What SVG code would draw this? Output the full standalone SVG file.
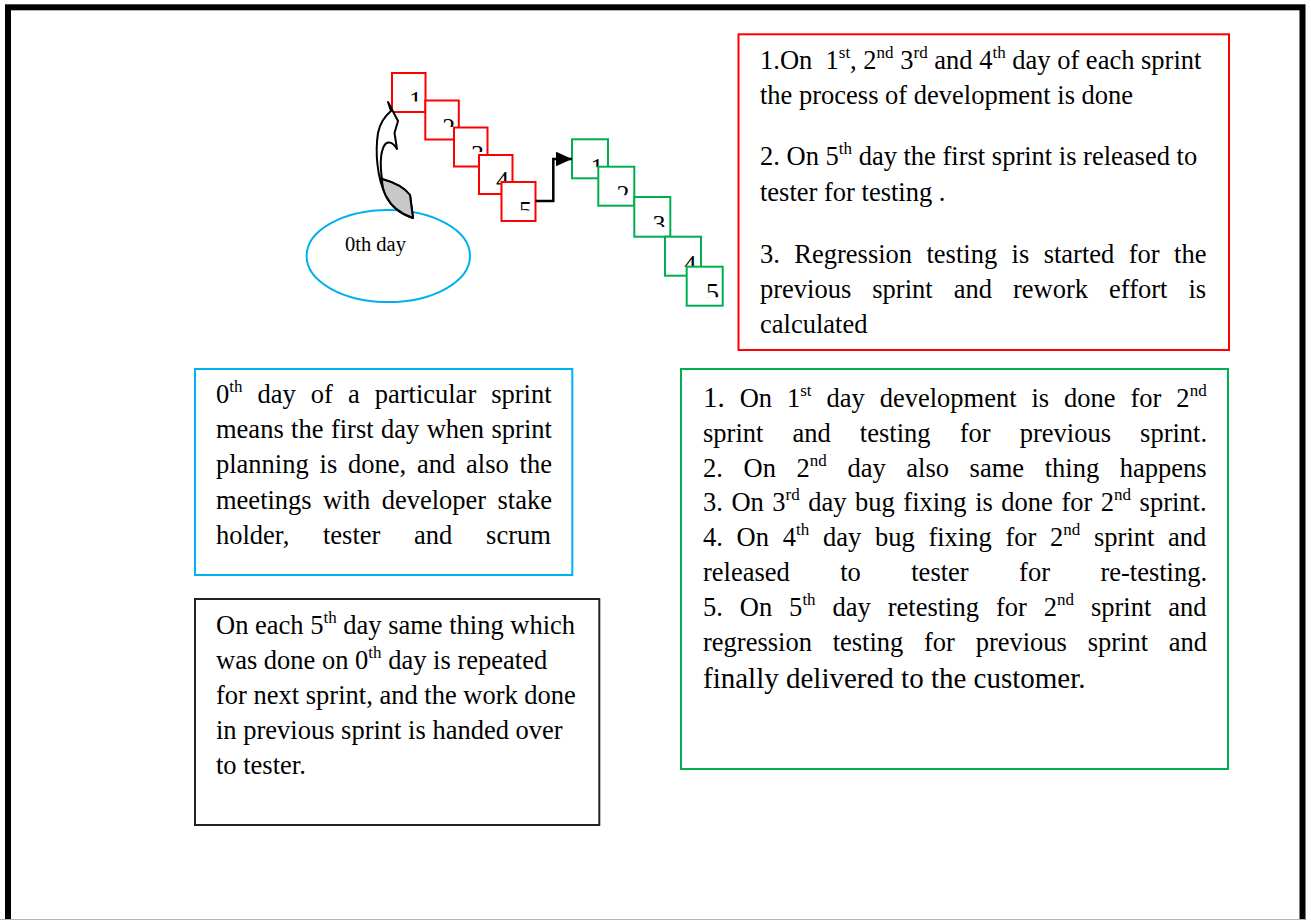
<svg xmlns="http://www.w3.org/2000/svg" width="1311" height="920" viewBox="0 0 1311 920">
  <style>
    .t { font-family: "Liberation Serif", "Times New Roman", serif; font-size: 26.5px; fill: #000; }
    .sup { font-size: 17px; }
    .big { font-size: 29px; }
    .d { font-family: "Liberation Serif", "Times New Roman", serif; font-size: 26px; fill: #000; text-anchor: middle; }
    .lbl { font-family: "Liberation Serif", "Times New Roman", serif; font-size: 20.5px; fill: #000; }
    .red { fill: #fff; stroke: #ff0000; stroke-width: 2; }
    .grn { fill: #fff; stroke: #00b050; stroke-width: 2; }
    .box { fill: #fff; stroke-width: 2; }
    .line { fill: none; stroke: #000; stroke-width: 2.5; }
  </style>
  <defs>
    <marker id="head" markerUnits="userSpaceOnUse" markerWidth="17" markerHeight="15" refX="16" refY="7.3" orient="auto">
      <path d="M0,0 L16,7.3 L0,14.6 Z" fill="#000"/>
    </marker>
    <!-- digit windows: the lower part of each day number is hidden -->
    <clipPath id="cr1" clipPathUnits="userSpaceOnUse"><rect x="392" y="73" width="33.5" height="28.5"/></clipPath>
    <clipPath id="cr2" clipPathUnits="userSpaceOnUse"><rect x="425.3" y="100.5" width="33.5" height="26.5"/></clipPath>
    <clipPath id="cr3" clipPathUnits="userSpaceOnUse"><rect x="454" y="127.5" width="33.5" height="24.5"/></clipPath>
    <clipPath id="cr4" clipPathUnits="userSpaceOnUse"><rect x="479" y="155" width="33.5" height="29.5"/></clipPath>
    <clipPath id="cr5" clipPathUnits="userSpaceOnUse"><rect x="501.5" y="182" width="34" height="28.5"/></clipPath>
    <clipPath id="cg1" clipPathUnits="userSpaceOnUse"><rect x="572" y="139.3" width="36" height="28"/></clipPath>
    <clipPath id="cg2" clipPathUnits="userSpaceOnUse"><rect x="598.3" y="166.7" width="36" height="28.5"/></clipPath>
    <clipPath id="cg3" clipPathUnits="userSpaceOnUse"><rect x="634.3" y="197" width="36" height="30"/></clipPath>
    <clipPath id="cg4" clipPathUnits="userSpaceOnUse"><rect x="665" y="236.7" width="36" height="30"/></clipPath>
    <clipPath id="cg5" clipPathUnits="userSpaceOnUse"><rect x="686.7" y="266.7" width="36" height="30.5"/></clipPath>
  </defs>

  <rect width="1311" height="920" fill="#fff"/>

  <!-- page frame -->
  <g id="frame">
    <rect x="8" y="7.3" width="1294.5" height="960" fill="none" stroke="#000" stroke-width="6"/>
    <line x1="0" y1="919.5" x2="1305" y2="919.5" stroke="#b4b4b4" stroke-width="1"/>
  </g>

  <!-- day 0 -->
  <g id="day0">
    <ellipse cx="388.3" cy="256" rx="81.7" ry="46" fill="#fff" stroke="#00b0f0" stroke-width="2"/>
    <text class="lbl" x="345" y="251">0th day</text>
  </g>

  <!-- first sprint: days 1-5 -->
  <g id="sprint1">
    <g id="s1d1"><rect class="red" x="392" y="73" width="33.5" height="39"/><text class="d" x="415.5" y="109" clip-path="url(#cr1)">1</text></g>
    <g id="s1d2"><rect class="red" x="425.3" y="100.5" width="33.5" height="39"/><text class="d" x="448.8" y="136" clip-path="url(#cr2)">2</text></g>
    <g id="s1d3"><rect class="red" x="454" y="127.5" width="33.5" height="39"/><text class="d" x="477.5" y="162.6" clip-path="url(#cr3)">3</text></g>
    <g id="s1d4"><rect class="red" x="479" y="155" width="33.5" height="39"/><text class="d" x="502.5" y="189.3" clip-path="url(#cr4)">4</text></g>
    <g id="s1d5"><rect class="red" x="501.5" y="182" width="34" height="39"/><text class="d" x="525.5" y="219.3" clip-path="url(#cr5)">5</text></g>
  </g>

  <!-- second sprint: days 1-5 -->
  <g id="sprint2">
    <g id="s2d1"><rect class="grn" x="572" y="139.3" width="36" height="39"/><text class="d" x="597" y="175.6" clip-path="url(#cg1)">1</text></g>
    <g id="s2d2"><rect class="grn" x="598.3" y="166.7" width="36" height="39"/><text class="d" x="623" y="202.6" clip-path="url(#cg2)">2</text></g>
    <g id="s2d3"><rect class="grn" x="634.3" y="197" width="36" height="39.7"/><text class="d" x="659" y="232.6" clip-path="url(#cg3)">3</text></g>
    <g id="s2d4"><rect class="grn" x="665" y="236.7" width="36" height="39"/><text class="d" x="690" y="272.6" clip-path="url(#cg4)">4</text></g>
    <g id="s2d5"><rect class="grn" x="686.7" y="266.7" width="36" height="39"/><text class="d" x="712.5" y="300.6" clip-path="url(#cg5)">5</text></g>
  </g>

  <!-- connectors -->
  <g id="connectors">
    <path class="line" d="M535.5,201 H553.3 V159 H572" marker-end="url(#head)"/>
    <g id="curved-arrow" stroke="#000" stroke-width="2" stroke-linejoin="round">
      <path fill="#fff" d="M388,102 L398,121 L394.5,133 L397,149 C393,142 387,140 384,146 C381,152 380,165 382,179 C393,182 404,187 410,195 L413,218 C401,214 391,206 386,196 C377,178 375,152 378,133 C380,123 385,116 391,111 Z"/>
      <path fill="#c8c8c8" d="M382,179 C393,182 404,187 410,195 L413,218 C401,214 391,206 386,196 C383,190 382,185 382,179 Z"/>
    </g>
  </g>

  <!-- notes on sprint days -->
  <g id="note-days">
    <rect class="box" x="738.5" y="34.3" width="490.5" height="315.7" stroke="#ff0000"/>
    <text class="t" x="760" y="69" xml:space="preserve">1.On  1<tspan class="sup" dy="-11">st</tspan><tspan dy="11">, 2</tspan><tspan class="sup" dy="-11">nd</tspan><tspan dy="11"> 3</tspan><tspan class="sup" dy="-11">rd</tspan><tspan dy="11"> and 4</tspan><tspan class="sup" dy="-11">th</tspan><tspan dy="11"> day of each sprint</tspan></text>
    <text class="t" x="760" y="104">the process of development is done</text>
    <text class="t" x="760" y="165">2. On 5<tspan class="sup" dy="-11">th</tspan><tspan dy="11"> day the first sprint is released to</tspan></text>
    <text class="t" x="760" y="200.5">tester for testing .</text>
    <text class="t" x="760" y="262.5" word-spacing="7.8">3. Regression testing is started for the</text>
    <text class="t" x="760" y="297.5" word-spacing="14.4">previous sprint and rework effort is</text>
    <text class="t" x="760" y="332.5">calculated</text>
  </g>

  <!-- note on day 0 -->
  <g id="note-day0">
    <rect class="box" x="195" y="369" width="377.3" height="206" stroke="#00b0f0"/>
    <text class="t" x="216" y="403" word-spacing="8.4">0<tspan class="sup" dy="-11">th</tspan><tspan dy="11"> day of a particular sprint</tspan></text>
    <text class="t" x="216" y="438" word-spacing="0.8">means the first day when sprint</text>
    <text class="t" x="216" y="473" word-spacing="4.2">planning is done, and also the</text>
    <text class="t" x="216" y="509" word-spacing="4.8">meetings with developer stake</text>
    <text class="t" x="216" y="544" word-spacing="27.1">holder, tester and scrum</text>
  </g>

  <!-- note on day 5 -->
  <g id="note-day5">
    <rect class="box" x="195" y="599" width="404.3" height="226" stroke="#222"/>
    <text class="t" x="216" y="634">On each 5<tspan class="sup" dy="-11">th</tspan><tspan dy="11"> day same thing which</tspan></text>
    <text class="t" x="216" y="669">was done on 0<tspan class="sup" dy="-11">th</tspan><tspan dy="11"> day is repeated</tspan></text>
    <text class="t" x="216" y="704">for next sprint, and the work done</text>
    <text class="t" x="216" y="739">in previous sprint is handed over</text>
    <text class="t" x="216" y="774">to tester.</text>
  </g>

  <!-- note on second sprint -->
  <g id="note-sprint2">
    <rect class="box" x="681" y="369" width="547" height="400" stroke="#00b050"/>
    <text class="t" x="703" y="407" word-spacing="8.3"><tspan class="big">1.</tspan> On 1<tspan class="sup" dy="-11">st</tspan><tspan dy="11"> day development is done for 2</tspan><tspan class="sup" dy="-11">nd</tspan></text>
    <text class="t" x="703" y="442" word-spacing="22.5">sprint and testing for previous sprint.</text>
    <text class="t" x="703" y="477" word-spacing="14">2. On 2<tspan class="sup" dy="-11">nd</tspan><tspan dy="11"> day also same thing happens</tspan></text>
    <text class="t" x="703" y="511" word-spacing="1.9">3. On 3<tspan class="sup" dy="-11">rd</tspan><tspan dy="11"> day bug fixing is done for 2</tspan><tspan class="sup" dy="-11">nd</tspan><tspan dy="11"> sprint.</tspan></text>
    <text class="t" x="703" y="546" word-spacing="7.1">4. On 4<tspan class="sup" dy="-11">th</tspan><tspan dy="11"> day bug fixing for 2</tspan><tspan class="sup" dy="-11">nd</tspan><tspan dy="11"> sprint and</tspan></text>
    <text class="t" x="703" y="581" word-spacing="43.8">released to tester for re-testing.</text>
    <text class="t" x="703" y="616" word-spacing="10.3">5. On 5<tspan class="sup" dy="-11">th</tspan><tspan dy="11"> day retesting for 2</tspan><tspan class="sup" dy="-11">nd</tspan><tspan dy="11"> sprint and</tspan></text>
    <text class="t" x="703" y="651" word-spacing="14.1">regression testing for previous sprint and</text>
    <text class="t big" x="703" y="688">finally delivered to the customer.</text>
  </g>
</svg>
